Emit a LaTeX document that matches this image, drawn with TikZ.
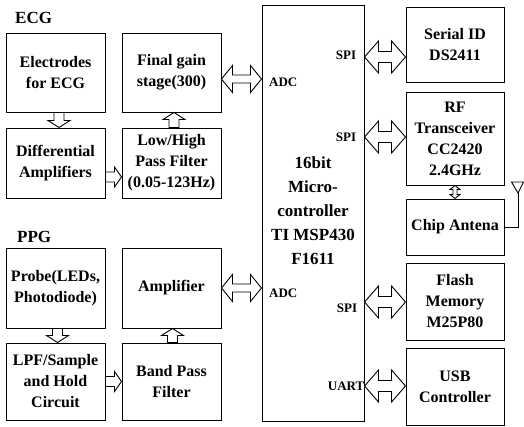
\documentclass[tikz,border=0pt]{standalone}
\usepackage{fontspec}
\setmainfont{Liberation Serif}
\usetikzlibrary{calc}
% horizontal hollow double arrow: #1 left tip, #2 right tip, #3 half height, #4 head length, #5 stem half height
\newcommand\dblH[5]{\draw[blk] let \p1=(#1), \p2=(#2) in (\x1,\y1) -- (\x1+#4,\y1+#3) -- (\x1+#4,\y1+#5) -- (\x2-#4,\y1+#5) -- (\x2-#4,\y1+#3) -- (\x2,\y1) -- (\x2-#4,\y1-#3) -- (\x2-#4,\y1-#5) -- (\x1+#4,\y1-#5) -- (\x1+#4,\y1-#3) -- cycle;}
% vertical hollow double arrow: #1 top tip, #2 bottom tip
\newcommand\dblV[5]{\draw[blk] let \p1=(#1), \p2=(#2) in (\x1,\y1) -- (\x1+#3,\y1-#4) -- (\x1+#5,\y1-#4) -- (\x1+#5,\y2+#4) -- (\x1+#3,\y2+#4) -- (\x1,\y2) -- (\x1-#3,\y2+#4) -- (\x1-#5,\y2+#4) -- (\x1-#5,\y1-#4) -- (\x1-#3,\y1-#4) -- cycle;}
% single hollow arrow to the right: #1 tail, #2 tip
\newcommand\sarR[2]{\draw[blk] let \p1=(#1), \p2=(#2) in (\x1,\y1+5pt) -- (\x2-7pt,\y1+5pt) -- (\x2-7pt,\y1+10pt) -- (\x2,\y1) -- (\x2-7pt,\y1-10pt) -- (\x2-7pt,\y1-5pt) -- (\x1,\y1-5pt) -- cycle;}
% single vertical hollow arrow: #1 tail, #2 tip, #3 signed head length
\newcommand\sarV[3]{\draw[blk] let \p1=(#1), \p2=(#2) in ({\x1-5pt},\y1) -- ({\x1-5pt},{\y2+#3}) -- ({\x1-11pt},{\y2+#3}) -- (\x1,\y2) -- ({\x1+11pt},{\y2+#3}) -- ({\x1+5pt},{\y2+#3}) -- ({\x1+5pt},\y1) -- cycle;}
\tikzset{
  box/.style={draw, line width=1pt, inner sep=0pt, align=center, font=\fontsize{16}{21}\selectfont\bfseries},
  blk/.style={draw, fill=white, line width=0.9pt, line join=miter},
  lbl/.style={inner sep=0pt, font=\fontsize{13}{15}\selectfont\bfseries},
  ttl/.style={inner sep=0pt, anchor=west, font=\fontsize{17}{20}\selectfont\bfseries},
  wire/.style={line width=0.9pt}
}
\begin{document}
\begin{tikzpicture}[x=1pt, y=-1pt]
\useasboundingbox (0,0) rectangle (524,426);
% titles
\node[ttl] (tecg) at (15,18) {ECG};
\node[ttl] (tppg) at (17,237) {PPG};
% ECG boxes
\node[box, minimum width=99pt, minimum height=79pt] (el) at (55.5,72.5) {Electrodes\\for ECG};
\node[box, minimum width=99pt, minimum height=79pt] (fg) at (171.5,72.5) {Final gain\\stage(300)};
\node[box, minimum width=99pt, minimum height=70pt] (da) at (55.5,163) {Differential\\Amplifiers};
\node[box, minimum width=99pt, minimum height=70pt] (lh) at (171.5,163) {Low/High\\Pass Filter\\(0.05-123Hz)};
% PPG boxes
\node[box, minimum width=99pt, minimum height=80pt] (pr) at (55.5,288) {Probe(LEDs,\\Photodiode)};
\node[box, minimum width=99pt, minimum height=80pt] (am) at (171.5,288) {Amplifier};
\node[box, minimum width=99pt, minimum height=77pt] (lp) at (55.5,381.5) {LPF/Sample\\and Hold\\Circuit};
\node[box, minimum width=99pt, minimum height=77pt] (bp) at (171.5,381.5) {Band Pass\\Filter};
% MCU
\node[box, minimum width=102pt, minimum height=416pt] (mcu) at (313,213) {};
\node[inner sep=0pt, align=center, font=\fontsize{17}{24}\selectfont\bfseries] (mcut) at (313,211) {16bit\\Micro-\\controller\\TI MSP430\\F1611};
% right boxes
\node[box, minimum width=98pt, minimum height=75pt] (sid) at (455,44.5) {Serial ID\\DS2411};
\node[box, minimum width=98pt, minimum height=93pt] (rf) at (455,138.5) {RF\\Transceiver\\CC2420\\2.4GHz};
\node[box, minimum width=98pt, minimum height=56pt] (ch) at (455,227) {Chip Antena};
\node[box, minimum width=98pt, minimum height=77pt] (fl) at (455,301.5) {Flash\\Memory\\M25P80};
\node[box, minimum width=98pt, minimum height=77pt] (usb) at (455,386.5) {USB\\Controller};
% port labels
\node[lbl, anchor=west] (adc1) at (269,82) {ADC};
\node[lbl, anchor=west] (adc2) at (269,293) {ADC};
\node[lbl] (spi1) at (346,55) {SPI};
\node[lbl] (spi2) at (346,137) {SPI};
\node[lbl] (spi3) at (347,308) {SPI};
\node[lbl, anchor=east] (uart) at (364.5,386) {UART};
% ECG chain arrows
\sarV{$(el.south)+(3.5,0)$}{da.north}{7pt}
\sarR{$(da.east)+(0,14)$}{lh.west}
\sarV{$(lh.north)+(2.5,0)$}{fg.south}{-7pt}
\dblH{$(fg.east)+(0,6.5)$}{mcu.west}{13.5pt}{11pt}{4pt}
% PPG chain arrows
\sarV{$(pr.south)+(2,0)$}{lp.north}{7pt}
\sarR{lp.east}{bp.west}
\sarV{$(bp.north)+(1,0)$}{am.south}{-7pt}
\dblH{am.east}{mcu.west}{13.5pt}{11pt}{4pt}
% MCU to peripherals
\dblH{$(mcu.east)+(0,-156)$}{sid.west}{16pt}{14pt}{5.5pt}
\dblH{$(mcu.east)+(0,-76)$}{rf.west}{16pt}{14pt}{5.5pt}
\dblH{$(mcu.east)+(0,89)$}{fl.west}{16pt}{14pt}{5.5pt}
\dblH{$(mcu.east)+(0,173)$}{usb.west}{16pt}{14pt}{5.5pt}
% RF to chip antenna
\dblV{rf.south}{ch.north}{5pt}{4pt}{2pt}
% antenna
\coordinate (ant) at (518,193);
\draw[wire] (ch.east) -| (ant);
\draw[wire, line join=miter] (ant) -- (511.5,182) -- (523.5,182) -- cycle;
\end{tikzpicture}
\end{document}
